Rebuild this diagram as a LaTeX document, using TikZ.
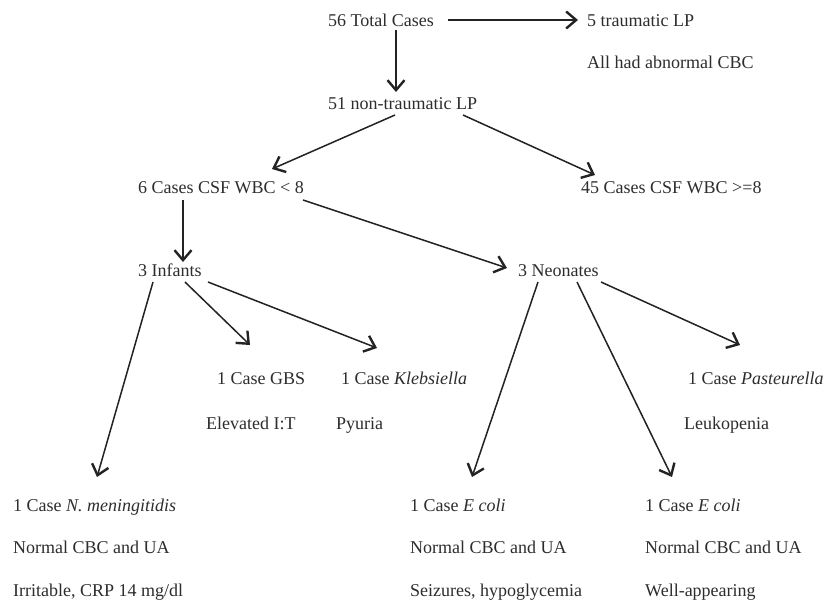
\documentclass[tikz,border=0pt]{standalone}
\usepackage{fontspec}
\setmainfont{Liberation Serif}
\usetikzlibrary{arrows.meta}
\definecolor{ink}{RGB}{35,35,35}
\definecolor{txtc}{RGB}{45,45,45}
\begin{document}
\begin{tikzpicture}[x=1pt,y=-1pt,
  txt/.style={anchor=base west,inner sep=0pt,text=txtc,font=\fontsize{18}{21.6}\selectfont},
  arr/.style={draw=ink,line width=1.5pt,-{Straight Barb[length=10pt,width=17pt,line width=2.4pt]}}]
\useasboundingbox[fill=white] (0,0) rectangle (829,600);
% texts
\node[txt] (tot)  at (328,26)  {56 Total Cases};
\node[txt] (trau) at (587,26)  {5 traumatic LP};
\node[txt] (allab) at (587,68) {All had abnormal CBC};
\node[txt] (nt)   at (328,109) {51 non-traumatic LP};
\node[txt] (six)  at (138,193) {6 Cases CSF WBC < 8};
\node[txt] (ff)   at (581,193) {45 Cases CSF WBC >=8};
\node[txt] (inf)  at (138,276) {3 Infants};
\node[txt] (neo)  at (518,276) {3 Neonates};
\node[txt] (gbs)  at (217,384) {1 Case GBS};
\node[txt] (gbsb) at (206,429) {Elevated I:T};
\node[txt] (kleb) at (341,384) {1 Case \textit{Klebsiella}};
\node[txt] (klebb) at (336,429) {Pyuria};
\node[txt] (past) at (688,384) {1 Case \textit{Pasteurella}};
\node[txt] (pastb) at (684,429) {Leukopenia};
\node[txt] (nm)   at (13,511)  {1 Case \textit{N. meningitidis}};
\node[txt] (nmb)  at (13,553)  {Normal CBC and UA};
\node[txt] (nmc)  at (13,596)  {Irritable, CRP 14 mg/dl};
\node[txt] (ea)   at (410,511) {1 Case \textit{E coli}};
\node[txt] (eab)  at (410,553) {Normal CBC and UA};
\node[txt] (eac)  at (410,596) {Seizures, hypoglycemia};
\node[txt] (eb)   at (645,511) {1 Case \textit{E coli}};
\node[txt] (ebb)  at (645,553) {Normal CBC and UA};
\node[txt] (ebc)  at (645,596) {Well-appearing};
% connectors
\draw[arr] ([shift={(120,-6)}]tot.base west) -- ([shift={(-9,-6)}]trau.base west);
\draw[arr] ([shift={(68,4)}]tot.base west) -- ([shift={(68,-17)}]nt.base west);
\draw[arr] ([shift={(67,6)}]nt.base west) -- ([shift={(134,-24)}]six.base west);
\draw[arr] ([shift={(135,6)}]nt.base west) -- ([shift={(14,-18)}]ff.base west);
\draw[arr] ([shift={(45,7)}]six.base west) -- ([shift={(45,-14)}]inf.base west);
\draw[arr] ([shift={(165,7)}]six.base west) -- ([shift={(-11,-8)}]neo.base west);
\draw[arr] ([shift={(15,6)}]inf.base west) -- ([shift={(84,-34)}]nm.base west);
\draw[arr] ([shift={(47,6)}]inf.base west) -- ([shift={(33,-39)}]gbs.base west);
\draw[arr] ([shift={(70,6)}]inf.base west) -- ([shift={(36,-36)}]kleb.base west);
\draw[arr] ([shift={(20,6)}]neo.base west) -- ([shift={(62,-34)}]ea.base west);
\draw[arr] ([shift={(59,6)}]neo.base west) -- ([shift={(27,-34)}]eb.base west);
\draw[arr] ([shift={(83,6)}]neo.base west) -- ([shift={(52,-39)}]past.base west);
\end{tikzpicture}
\end{document}
